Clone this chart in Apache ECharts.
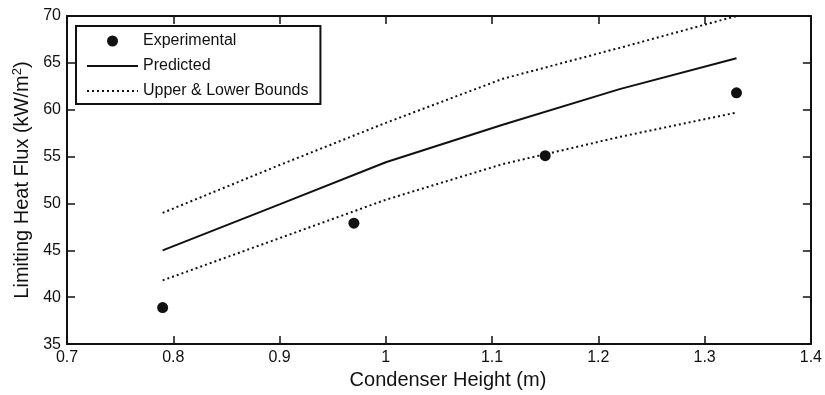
<!DOCTYPE html>
<html>
<head>
<meta charset="utf-8">
<script src="https://cdn.jsdelivr.net/npm/echarts@6/dist/echarts.min.js"></script>
<style>
  html, body { margin: 0; padding: 0; background: #fff; }
  #chart { width: 825px; height: 395px; }
</style>
</head>
<body>
<div id="chart"></div>
<script>
// values
const expHeight = [0.79, 0.97, 1.15, 1.33];
const expFlux = [38.9, 47.9, 55.1, 61.8];

const modelHeight = [0.79, 0.9, 1.0, 1.11, 1.22, 1.33];
const predicted = [45.0, 49.9, 54.4, 58.4, 62.2, 65.5];
const upperBound = [49.0, 54.1, 58.6, 63.3, 66.6, 70.0];
const lowerBound = [41.8, 46.3, 50.4, 54.2, 57.1, 59.7];

const xTicks = { min: 0.7, max: 1.4, interval: 0.1 };
const yTicks = { min: 35, max: 70, interval: 5 };

const pair = (xs, ys) => xs.map((x, i) => [x, ys[i]]);

const font = 'Liberation Sans, Arial, Helvetica, sans-serif';
const ink = '#111';

const chart = echarts.init(document.getElementById('chart'));

const baseAxis = {
  axisLine: { onZero: false, lineStyle: { color: ink, width: 2 } },
  axisTick: { inside: true, length: 8, lineStyle: { color: ink, width: 1.5 } },
  splitLine: { show: false },
};

chart.setOption({
  animation: false,
  backgroundColor: '#fff',
  textStyle: { fontFamily: font, color: ink },
  grid: { left: 67, right: 11, top: 16, bottom: 50 },
  legend: {
    left: 76,
    top: 26,
    orient: 'vertical',
    padding: [7, 12, 5, 10],
    itemWidth: 51,
    itemHeight: 11,
    itemGap: 9,
    borderColor: ink,
    borderWidth: 2,
    backgroundColor: '#fff',
    textStyle: { fontFamily: font, fontSize: 16, color: ink },
    data: [
      { name: 'Experimental', icon: 'circle', itemStyle: { color: ink, opacity: 1 } },
      { name: 'Predicted', itemStyle: { opacity: 0 } },
      { name: 'Upper & Lower Bounds', itemStyle: { opacity: 0 } },
    ],
  },
  xAxis: [
    {
      ...baseAxis,
      type: 'value',
      min: xTicks.min,
      max: xTicks.max,
      interval: xTicks.interval,
      name: 'Condenser Height (m)',
      nameLocation: 'middle',
      nameGap: 25,
      nameTextStyle: { fontFamily: font, fontSize: 20, color: ink, padding: [0, 0, 0, 18] },
      axisLabel: {
        fontFamily: font,
        fontSize: 16,
        color: ink,
        margin: 5,
        formatter: (v) => String(Math.round(v * 10) / 10),
      },
    },
    {
      ...baseAxis,
      type: 'value',
      position: 'top',
      min: xTicks.min,
      max: xTicks.max,
      interval: xTicks.interval,
      axisLabel: { show: false },
    },
  ],
  yAxis: [
    {
      ...baseAxis,
      type: 'value',
      min: yTicks.min,
      max: yTicks.max,
      interval: yTicks.interval,
      name: 'Limiting Heat Flux (kW/m{sup|2})',
      nameLocation: 'middle',
      nameGap: 29,
      nameTextStyle: {
        fontFamily: font,
        fontSize: 20,
        color: ink,
        rich: {
          sup: { fontFamily: font, fontSize: 13, color: ink, verticalAlign: 'top', lineHeight: 23 },
        },
      },
      axisLabel: { fontFamily: font, fontSize: 16, color: ink, margin: 6 },
    },
    {
      ...baseAxis,
      type: 'value',
      position: 'right',
      min: yTicks.min,
      max: yTicks.max,
      interval: yTicks.interval,
      axisLabel: { show: false },
    },
  ],
  series: [
    {
      name: 'Upper & Lower Bounds',
      type: 'line',
      data: pair(modelHeight, upperBound),
      symbol: 'none',
      lineStyle: { color: ink, width: 2, type: [2, 3] },
      itemStyle: { color: ink },
    },
    {
      name: 'Upper & Lower Bounds',
      type: 'line',
      data: pair(modelHeight, lowerBound),
      symbol: 'none',
      lineStyle: { color: ink, width: 2, type: [2, 3] },
      itemStyle: { color: ink },
    },
    {
      name: 'Predicted',
      type: 'line',
      data: pair(modelHeight, predicted),
      symbol: 'none',
      lineStyle: { color: ink, width: 2 },
      itemStyle: { color: ink },
    },
    {
      name: 'Experimental',
      type: 'scatter',
      data: pair(expHeight, expFlux),
      symbol: 'circle',
      symbolSize: 11,
      itemStyle: { color: ink, opacity: 1 },
      z: 5,
    },
  ],
});
</script>
</body>
</html>
